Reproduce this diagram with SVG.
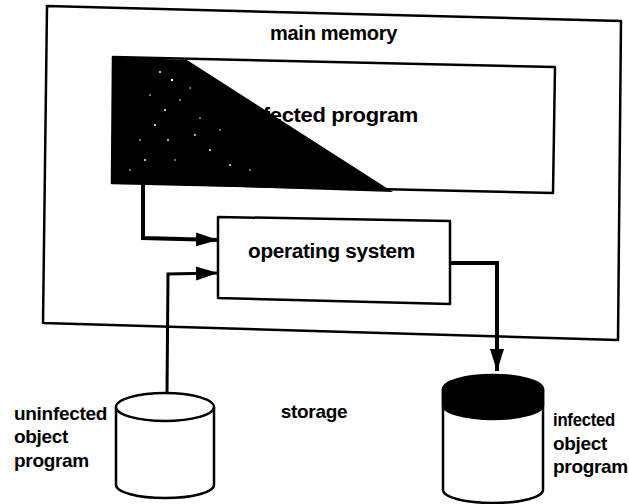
<svg xmlns="http://www.w3.org/2000/svg" width="629" height="504" viewBox="0 0 629 504">
  <style>
    .box { fill: none; stroke: #000; stroke-width: 2.5; stroke-linejoin: round; }
    .wbox { fill: #fff; stroke: #000; stroke-width: 2.5; stroke-linejoin: round; }
    .lbl { font-family: "Liberation Sans", Arial, sans-serif; font-weight: bold; font-size: 19px; fill: #000; letter-spacing: -0.3px; }
    .big { font-size: 20px; }
    .conn { fill: none; stroke: #000; stroke-linejoin: miter; }
  </style>
  <defs>
    <marker id="arrow" markerUnits="userSpaceOnUse" markerWidth="24" markerHeight="16" refX="22" refY="7" orient="auto">
      <path d="M0,0 L22,7 L0,14 Z" fill="#000"/>
    </marker>
  </defs>
  <rect width="629" height="504" fill="#fff"/>

  <g id="main-memory">
    <polygon class="box" points="47,6 621,21 618,340 43,323"/>
    <text class="lbl big" x="270" y="40" textLength="127" lengthAdjust="spacingAndGlyphs">main memory</text>
  </g>

  <g id="infected-program">
    <polygon class="wbox" points="113,57 555,67 553,193 112,183"/>
    <text class="lbl big" x="244" y="122" textLength="174" lengthAdjust="spacingAndGlyphs">infected program</text>
    <polygon points="113,57 187,60 393,192 112,183" fill="#000"/>
    <g fill="#fff">
      <circle cx="160" cy="72" r="1"/><circle cx="172" cy="80" r="1.2"/><circle cx="150" cy="95" r="0.8"/>
      <circle cx="165" cy="110" r="1"/><circle cx="180" cy="100" r="0.8"/><circle cx="155" cy="125" r="1"/>
      <circle cx="195" cy="135" r="0.9"/><circle cx="140" cy="140" r="0.8"/><circle cx="210" cy="150" r="1"/>
      <circle cx="175" cy="160" r="0.8"/><circle cx="230" cy="165" r="0.9"/><circle cx="130" cy="170" r="0.8"/>
      <circle cx="250" cy="170" r="0.8"/><circle cx="200" cy="118" r="0.8"/><circle cx="145" cy="160" r="1"/>
      <circle cx="190" cy="88" r="0.8"/><circle cx="168" cy="140" r="0.9"/><circle cx="220" cy="130" r="0.8"/>
    </g>
  </g>

  <g id="operating-system">
    <polygon class="wbox" points="218,217 450,221 450,304 218,298"/>
    <text class="lbl big" x="248" y="258" textLength="167" lengthAdjust="spacingAndGlyphs">operating system</text>
  </g>

  <g id="uninfected-cylinder">
    <path class="wbox" d="M116,407 L116,485 A49,13 0 0,0 214,485 L214,407"/>
    <ellipse class="wbox" cx="165" cy="407" rx="49" ry="14"/>
    <text class="lbl" x="14" y="420">uninfected</text>
    <text class="lbl" x="14" y="443">object</text>
    <text class="lbl" x="14" y="467">program</text>
  </g>

  <g id="storage">
    <text class="lbl" x="314" y="418" text-anchor="middle">storage</text>
  </g>

  <g id="infected-cylinder">
    <path class="wbox" d="M443,389 L443,490 A50,13 0 0,0 543,490 L543,389"/>
    <path d="M443,389 A50,14 0 0,1 543,389 L543,405 A50,14 0 0,1 443,405 Z" fill="#000" stroke="#000" stroke-width="2.5"/>
    <text class="lbl" x="553" y="426" textLength="62" lengthAdjust="spacingAndGlyphs">infected</text>
    <text class="lbl" x="553" y="450">object</text>
    <text class="lbl" x="553" y="473">program</text>
  </g>

  <g id="connectors">
    <polyline class="conn" stroke-width="4" points="143,185 143,238 218,240" marker-end="url(#arrow)"/>
    <polyline class="conn" stroke-width="3" points="167,393 168,274 218,273" marker-end="url(#arrow)"/>
    <polyline class="conn" stroke-width="4" points="450,263 497,263 497,371" marker-end="url(#arrow)"/>
  </g>
</svg>
